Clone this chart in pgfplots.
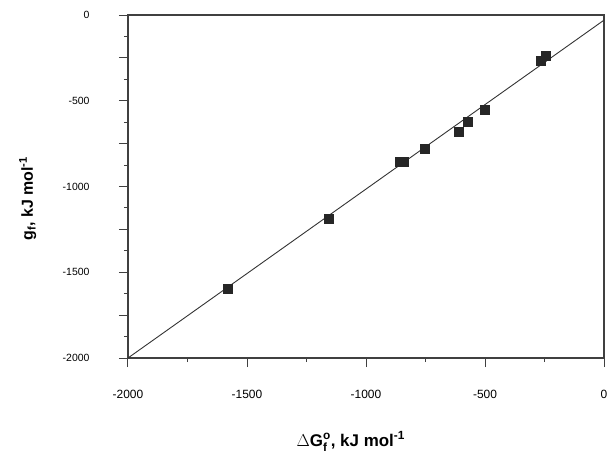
\documentclass[border=0pt]{standalone}
\usepackage{fontspec}
\setmainfont{Liberation Sans}
\usepackage{amsmath}
\usepackage{pgfplots}
\pgfplotsset{compat=1.18}
\usetikzlibrary{calc}

\begin{document}
\begin{tikzpicture}
\begin{axis}[
  scale only axis, width=476bp, height=343bp,
  xmin=-2000, xmax=0, ymin=-2000, ymax=0,
  axis line style={black!75, line width=1.3pt},
  tick align=outside, xtick pos=bottom, ytick pos=left,
  xtick={-2000,-1500,...,0}, xticklabels={-2000,-1500,-1000,-500,0},
  minor x tick num=1,
  ytick={-2000,-1750,...,0}, yticklabels={-2000,,-1500,,-1000,,-500,,0},
  minor y tick num=1,
  major tick length=9bp, minor tick length=4bp,
  tick style={black!75, line width=1pt},
  xticklabel style={font=\fontsize{12}{14}\selectfont, yshift=-20bp},
  yticklabel style={font=\fontsize{10.5}{12}\selectfont, xshift=-26bp},
  xlabel={$\Delta$\textbf{G}$_{\text{\textbf{f}}}^{\text{\textbf{o}}}$\textbf{, kJ mol}$^{\text{\textbf{-1}}}$},
  ylabel={\textbf{g}$_{\text{\textbf{f}}}$\textbf{, kJ mol}$^{\text{\textbf{-1}}}$},
  xlabel style={at={($(rel axis cs:0.468,0)+(0,-88bp)$)}, anchor=base, font=\fontsize{17}{20}\selectfont},
  ylabel style={at={($(rel axis cs:0,0.465)+(-95bp,0)$)}, anchor=base, font=\fontsize{16}{19}\selectfont},
]
\addplot[black!80, line width=0.9pt] coordinates {(-2000,-2000) (0,-30)};
\addplot[only marks, mark=square*, mark size=4.5bp, black!85] coordinates {
  (-1581,-1594) (-1158,-1185) (-860,-857) (-841,-857) (-752,-777)
  (-609,-680) (-574,-622) (-500,-550) (-265,-265) (-245,-240)};
\end{axis}
\pgfresetboundingbox
\path[use as bounding box] (current axis.south west) ++(-128bp,-98bp) rectangle ++(607bp,456bp);
\end{tikzpicture}
\end{document}
